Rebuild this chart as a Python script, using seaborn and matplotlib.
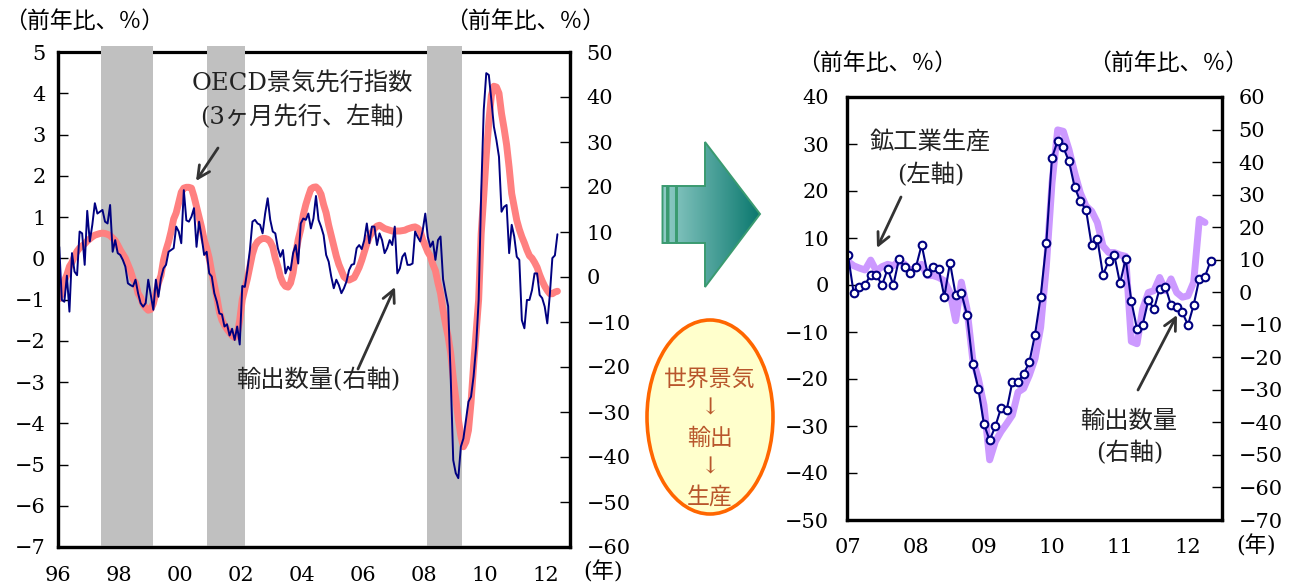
import numpy as np
import pandas as pd
import matplotlib
matplotlib.use("Agg")
import matplotlib.pyplot as plt
import seaborn as sns
from matplotlib.patches import Ellipse, PathPatch
from matplotlib.path import Path

# ---------------- data ----------------
# Left panel: monthly, Jan 1996 onwards
long_start_year = 1996
oecd_cli = [
    -0.98, -0.85, -0.55, -0.4, -0.2, -0.1, 0.05, 0.17, 0.25, 0.3, 0.35, 0.42,
    0.47, 0.52, 0.56, 0.58, 0.6, 0.61, 0.6, 0.58, 0.55, 0.49, 0.43, 0.32,
    0.2, 0.1, 0.0, -0.15, -0.3, -0.5, -0.6, -0.85, -0.95, -1.12, -1.2, -1.26,
    -1.24, -1.1, -0.85, -0.6, -0.42, -0.05, 0.2, 0.4, 0.65, 0.95, 1.1, 1.35,
    1.6, 1.7, 1.72, 1.72,
    1.7, 1.5, 1.25, 1.0, 0.75, 0.45, 0.25, 0.0, -0.35, -0.65, -0.95, -1.3,
    -1.5, -1.62, -1.72, -1.8, -1.88, -1.92, -1.85, -1.5, -1.0, -0.75, -0.5, -0.2,
    0.1, 0.3, 0.4, 0.45, 0.48, 0.48, 0.46, 0.4, 0.27, 0.0, -0.2, -0.45,
    -0.6, -0.68, -0.7, -0.6, -0.35, 0.1, 0.45, 0.7, 1.05, 1.3, 1.5, 1.68,
    1.72, 1.73, 1.67,
    1.55, 1.3, 1.1, 0.8, 0.55, 0.3, 0.05, -0.15, -0.3, -0.45, -0.5, -0.53,
    -0.5, -0.47, -0.35, -0.22, -0.05, 0.15, 0.35, 0.52, 0.62, 0.72, 0.78, 0.8,
    0.76, 0.72, 0.7, 0.68, 0.66, 0.66, 0.66, 0.66, 0.67, 0.68, 0.71, 0.73,
    0.75, 0.76, 0.73, 0.66, 0.45, 0.3, 0.15, 0.05, -0.15, -0.3, -0.6, -0.85,
    -1.26, -1.6, -1.9,
    -2.3, -2.9, -3.4, -3.9, -4.3, -4.57, -4.45, -4.17, -3.5, -2.6, -1.8, -1.0,
    0.6, 1.5, 2.5, 3.3, 3.95, 4.17, 4.15, 4.0, 3.51, 3.15, 2.75, 2.2,
    1.57, 1.25, 0.92, 0.7, 0.52, 0.37, 0.2, 0.06, 0.0, -0.1, -0.22, -0.4,
    -0.55, -0.68, -0.78, -0.86, -0.86, -0.82, -0.8,
]
export_volume = [
    6.7, -5.1, -5.5, 0.3, -7.7, 5.3, 1.2, 0.4, 10.1, 9.7, 2.7, 14.7,
    7.9, 11.6, 16.4, 14.1, 14.5, 14.9, 12.3, 11.9, 16.0, 5.6, 8.2, 5.3,
    4.9, 3.8, 2.3, -1.4, -1.8, -2.1, -0.6, -3.6, -5.8, -6.6, -5.8, -0.6,
    -4.0, -7.3, -0.6, -4.4, -0.3, 1.9, 2.7, 5.6, 6.0, 6.4, 11.2, 10.1,
    7.5, 19.3, 12.6, 12.3,
    13.4, 15.3, 6.7, 12.3, 8.9, 4.9, 5.6, 0.8, 0.1, -3.6, -5.5, -8.1,
    -8.3, -11.0, -10.5, -13.0, -11.5, -14.0, -11.0, -15.0, -2.0, -2.2, 1.5, 6.0,
    12.3, 12.7, 11.9, 11.6, 9.7, 14.1, 17.5, 12.7, 10.1, 9.7, 6.4, 4.5,
    6.0, 0.8, 2.3, 1.5, 5.3, 7.1, 3.0, 11.9, 13.0, 12.7, 14.1, 10.8,
    13.0, 18.0, 12.7,
    11.2, 9.3, 4.9, 3.4, 0.1, -2.5, -0.6, -1.8, -3.6, -2.5, -1.0, 1.5,
    2.7, 2.9, 6.4, 7.1, 6.2, 8.2, 11.9, 7.5, 11.2, 11.2, 7.1, 9.7,
    8.2, 5.3, 6.4, 8.2, 7.1, 11.2, 0.8, 1.9, 4.5, 5.3, 2.7, 2.7,
    3.0, 10.1, 8.9, 7.9, 10.4, 14.1, 8.9, 6.7, 7.9, 3.8, 8.2, 9.0,
    -0.5, -3.6, -6.5,
    -22.1, -40.7, -43.6, -44.7, -37.7, -35.9, -31.8, -27.7, -26.6, -22.1, -15.5, -5.1,
    18.6, 37.1, 45.3, 44.9, 39.3, 33.4, 30.4, 26.7, 14.5, 15.6, 16.0, 5.3,
    11.6, 9.0, 4.5, 3.8, -9.6, -11.4, -5.1, -5.1, -2.9, 0.8, 0.8, -4.0,
    -4.7, -6.6, -10.3, -4.0, 4.2, 4.8, 9.5,
]
recession_start = [1997.4, 2000.9, 2008.1]
recession_end = [1999.12, 2002.13, 2009.25]
long_ticks = [1996, 1998, 2000, 2002, 2004, 2006, 2008, 2010, 2012]
long_tick_labels = ["96", "98", "00", "02", "04", "06", "08", "10", "12"]

# Right panel: monthly, Jan 2007 onwards
recent_start_year = 2007
industrial_production = [
    5.0, 4.1, 3.6, 3.2, 5.3, 3.0, 3.9, 4.4, 4.1, 5.1, 4.4, 3.0,
    3.7, 4.4, 2.0, 2.0, 1.6, 0.9, -1.6, -7.6, 0.6, -5.1, -15.7, -19.9,
    -25.6, -37.2, -33.3, -31.2, -29.5, -27.7, -22.8, -22.0, -19.2, -15.7, -9.0, 4.0,
    21.7, 33.0, 32.7, 28.8, 23.9, 19.6, 16.8, 15.7, 13.3, 8.3, 6.9, 6.9,
    6.4, 6.1, -12.0, -12.5, -5.1, -1.6, -1.2, 1.6, -1.2, 1.3, -1.6, -2.6,
    -2.3, 0.6, 14.0, 13.3,
]
export_volume_recent = [
    11.4, -0.2, 1.6, 2.2, 5.4, 5.4, 2.1, 7.2, 2.2, 10.2, 7.7, 6.0,
    7.8, 14.6, 6.0, 7.7, 7.2, -1.4, 9.1, -0.8, -0.2, -6.9, -22.1, -29.6,
    -40.6, -45.5, -41.2, -35.6, -36.2, -27.6, -27.6, -25.1, -21.5, -13.0, -1.4, 15.2,
    41.4, 46.5, 44.5, 40.2, 32.3, 27.9, 25.4, 14.4, 16.4, 5.3, 9.6, 11.4,
    2.7, 10.3, -2.7, -11.3, -10.0, -2.4, -5.2, 1.1, 1.7, -4.0, -4.5, -6.2,
    -10.1, -3.9, 4.2, 4.8, 9.7,
]
recent_ticks = [2007, 2008, 2009, 2010, 2011, 2012]
recent_tick_labels = ["07", "08", "09", "10", "11", "12"]

# ---------------- style ----------------
sns.set_theme(style="white")
plt.rcParams["font.family"] = ["DejaVu Serif", "Noto Sans CJK JP"]
for k in ("text.color", "axes.labelcolor", "xtick.color", "ytick.color", "axes.edgecolor"):
    plt.rcParams[k] = "black"

CJK = ["DejaVu Serif", "Noto Sans CJK JP"]
W, H = 1295, 586
fig = plt.figure(figsize=(W / 100, H / 100), dpi=100)


def frac(left, top, right, bottom):
    return [left / W, 1 - bottom / H, (right - left) / W, (bottom - top) / H]


def style_axes(ax, side, pad):
    ax.tick_params(axis="y", which="both", direction="in", length=7, width=1,
                   labelsize=15, pad=pad, left=(side == "left"), right=(side == "right"),
                   labelleft=(side == "left"), labelright=(side == "right"))
    for sp in ax.spines.values():
        sp.set_linewidth(2.3)
        sp.set_color("black")
    ax.set_xlabel("")
    ax.set_ylabel("")


# ---------------- left panel ----------------
long_df = pd.DataFrame({
    "date": long_start_year + (np.arange(len(oecd_cli)) + 0.5) / 12,
    "cli": oecd_cli,
    "exports": export_volume,
})

axL = fig.add_axes(frac(58, 52, 570, 547))
axLr = axL.twinx()

sns.lineplot(data=long_df, x="date", y="cli", ax=axL, color="#ff8080",
             linewidth=5, solid_capstyle="round", zorder=4)
sns.lineplot(data=long_df, x="date", y="exports", ax=axLr, color="#000080",
             linewidth=1.4)

for s, e in zip(recession_start, recession_end):
    axL.axvspan(s, e, ymin=0, ymax=1.012, color="#c0c0c0", lw=0, zorder=3, clip_on=False)

axL.set_xlim(1996, 1996 + 512 / 30.5)
axL.set_ylim(-7, 5)
axLr.set_ylim(-60, 50)
axL.set_yticks(range(-7, 6))
axLr.set_yticks(range(-60, 51, 10))
axL.set_xticks(long_ticks)
axL.set_xticklabels(long_tick_labels)
axL.tick_params(axis="x", direction="in", length=7, width=1, labelsize=15, pad=14)
style_axes(axL, "left", 9)
style_axes(axLr, "right", 12)
axLr.spines["top"].set_visible(False)
axL.spines["top"].set_zorder(2.5)

# ---------------- right panel ----------------
recent_df = pd.DataFrame({
    "date": recent_start_year + np.arange(len(export_volume_recent)) / 12,
    "exports": export_volume_recent,
})
ip_df = pd.DataFrame({
    "date": recent_start_year + np.arange(len(industrial_production)) / 12,
    "ip": industrial_production,
})

axR = fig.add_axes(frac(847, 97, 1222, 520))
axRr = axR.twinx()

sns.lineplot(data=ip_df, x="date", y="ip", ax=axR, color="#cc99ff",
             linewidth=5, solid_capstyle="round")
sns.lineplot(data=recent_df, x="date", y="exports", ax=axRr, color="#000080",
             linewidth=1.5, marker="o", markersize=5.5, markerfacecolor="white",
             markeredgecolor="#000080", markeredgewidth=1.5)

x0 = 2007 - 1 / 68
axR.set_xlim(x0, x0 + 375 / 68)
axR.set_ylim(-50, 40)
axRr.set_ylim(-70, 60)
axR.set_yticks(range(-50, 41, 10))
axRr.set_yticks(range(-70, 61, 10))
axR.set_xticks(recent_ticks)
axR.set_xticklabels(recent_tick_labels)
axR.tick_params(axis="x", direction="in", length=7, width=1, labelsize=15, pad=13)
style_axes(axR, "left", 13)
style_axes(axRr, "right", 12)

# ---------------- overlay: labels, arrows, diagram ----------------
ov = fig.add_axes([0, 0, 1, 1], zorder=20)
ov.set_xlim(0, W)
ov.set_ylim(H, 0)
ov.axis("off")
ov.patch.set_alpha(0)

unit = "（前年比、％）"
for (x, y) in [(84, 22), (525, 22), (877, 64), (1168, 64)]:
    ov.text(x, y, unit, ha="center", va="center", fontsize=16.5, family=CJK)
ov.text(603, 572, "(年)", ha="center", va="center", fontsize=16, family=CJK)
ov.text(1256, 546, "(年)", ha="center", va="center", fontsize=16, family=CJK)

note_kw = dict(ha="center", va="center", fontsize=17.5, family=CJK, color="#222222")
ov.text(302, 84, "OECD景気先行指数", **note_kw)
ov.text(302, 117, "(3ヶ月先行、左軸)", **note_kw)
ov.text(318, 380, "輸出数量(右軸)", **note_kw)
ov.text(930, 143, "鉱工業生産", **note_kw)
ov.text(931, 175, "(左軸)", **note_kw)
ov.text(1129, 421, "輸出数量", **note_kw)
ov.text(1130, 453, "(右軸)", **note_kw)

arrow_kw = dict(arrowstyle="->", color="#333333", lw=2, mutation_scale=22,
                shrinkA=0, shrinkB=0)
for tail, head in [((218, 148), (196, 181)), ((358, 369), (395, 287)),
                   ((901, 197), (877, 248)), ((1138, 390), (1177, 315))]:
    ov.annotate("", xy=head, xytext=tail, arrowprops=arrow_kw)

# block arrow with gradient fill
body = [(677, 186), (705, 186), (705, 142), (760, 214), (705, 287), (705, 243), (677, 243), (677, 186)]
stripe1 = [(662.5, 186), (667, 186), (667, 243), (662.5, 243), (662.5, 186)]
stripe2 = [(668.5, 186), (676, 186), (676, 243), (668.5, 243), (668.5, 186)]
shape = Path.make_compound_path(*[Path(p, closed=True) for p in (stripe1, stripe2, body)])
c_left = np.array([0x92, 0xcd, 0xc8]) / 255
c_right = np.array([0x0a, 0x78, 0x6e]) / 255
t = np.linspace(0, 1, 256)[None, :, None]
grad = c_left * (1 - t) + c_right * t
im = ov.imshow(grad, extent=(662, 760, 287, 142), aspect="auto", zorder=2)
clip = PathPatch(shape, transform=ov.transData, facecolor="none", edgecolor="none")
ov.add_patch(clip)
im.set_clip_path(clip)
ov.add_patch(PathPatch(shape, facecolor="none", edgecolor="#3a9a70", lw=1.4, zorder=3))
ov.set_xlim(0, W)
ov.set_ylim(H, 0)

# flow ellipse
ov.add_patch(Ellipse((710, 417), 126, 194, facecolor="#ffffcc", edgecolor="#ff6600", lw=2.6, zorder=2))
flow_kw = dict(ha="center", va="center", fontsize=16.5, family=CJK, color="#b8562c", zorder=4)
for y, s in [(380, "世界景気"), (409, "↓"), (439, "輸出"), (468, "↓"), (498, "生産")]:
    ov.text(710, y, s, **flow_kw)

fig.savefig("out.png", dpi=100)
